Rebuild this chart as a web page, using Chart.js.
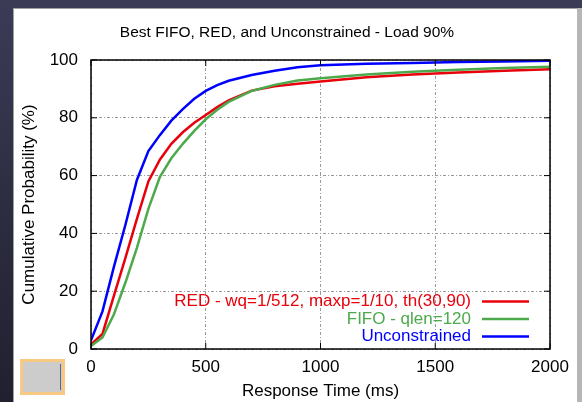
<!DOCTYPE html>
<html>
<head>
<meta charset="utf-8">
<script src="https://cdn.jsdelivr.net/npm/chart.js@4.4.1/dist/chart.umd.min.js"></script>
<style>
  body { margin:0; width:582px; height:402px; overflow:hidden; position:relative;
         background:linear-gradient(to bottom, #3b3b56, #20202e); }
  #panel { position:absolute; left:13px; top:8px; width:564px; height:394px; background:#fff;
           border-top:1px solid #a0a0a0; border-left:1px solid #a0a0a0; box-sizing:border-box; }
  #edge { position:absolute; left:577px; top:8px; width:5px; height:394px; background:#b6b6b6; }
  #thumb { position:absolute; left:20px; top:359px; width:45px; height:36px; box-sizing:border-box;
           border:3px solid #f8c983; background:#cccccc; }
  #thumb div { position:absolute; right:1px; top:2px; width:1px; height:26px; background:#667; }
  canvas { position:absolute; left:0; top:0; z-index:2; }
</style>
</head>
<body>
<div id="panel"></div>
<div id="edge"></div>
<div id="thumb"><div></div></div>
<canvas id="cdf" width="582" height="402"></canvas>
<script>
// response time (ms) and cumulative probability (%)
var times = [0, 50, 100, 150, 200, 250, 300, 350, 400, 450, 500, 550, 600, 700, 800, 900, 1000, 1200, 1400, 1600, 1800, 2000];
var redValues = [1.6, 5.2, 18.5, 31.5, 45, 58, 65.5, 71, 75, 78.3, 81, 83.7, 86, 89.4, 90.9, 91.8, 92.6, 94.0, 95.0, 95.7, 96.3, 96.8];
var fifoValues = [1, 4, 12, 23, 35, 48.5, 59.5, 66, 71, 75.5, 79.5, 82.8, 85.5, 89.3, 91.4, 92.9, 93.7, 95.0, 95.9, 96.6, 97.2, 97.7];
var freeValues = [3, 13, 28.5, 43, 58.5, 68.5, 74, 79, 83, 86.6, 89.3, 91.3, 92.8, 94.8, 96.3, 97.5, 98.2, 98.7, 99.0, 99.3, 99.5, 99.7];
var seriesNames = ["RED - wq=1/512, maxp=1/10, th(30,90)", "FIFO - qlen=120", "Unconstrained"];
var lineColors = ["#e8000b", "#4caa4c", "#0000ff"];
var xTicks = [0, 500, 1000, 1500, 2000];
var yTicks = [0, 20, 40, 60, 80, 100];

Chart.defaults.font.family = "'Liberation Sans', Arial, sans-serif";
Chart.defaults.color = "#000";

function pts(vals) {
  return times.map(function(t, i){ return {x: t, y: vals[i]}; });
}

function line(idx, vals) {
  return {
    label: seriesNames[idx],
    data: pts(vals),
    borderColor: lineColors[idx],
    borderWidth: 2.5,
    pointRadius: 0,
    tension: 0,
    fill: false
  };
}

// title, frame, inward ticks and the legend
var decor = {
  id: "decor",
  afterDatasetsDraw: function(chart) {
    var ctx = chart.ctx, a = chart.chartArea;
    var xs = chart.scales.x, ys = chart.scales.y;
    ctx.save();
    ctx.strokeStyle = "#000";
    ctx.lineWidth = 1;
    ctx.beginPath();
    xTicks.forEach(function(v){
      var px = xs.getPixelForValue(v);
      ctx.moveTo(px, a.bottom); ctx.lineTo(px, a.bottom - 6);
      ctx.moveTo(px, a.top); ctx.lineTo(px, a.top + 6);
    });
    yTicks.forEach(function(v){
      var py = ys.getPixelForValue(v);
      ctx.moveTo(a.left, py); ctx.lineTo(a.left + 6, py);
      ctx.moveTo(a.right, py); ctx.lineTo(a.right - 6, py);
    });
    ctx.stroke();
    ctx.lineWidth = 1.5;
    ctx.strokeRect(a.left, a.top, a.right - a.left, a.bottom - a.top);

    ctx.font = "15.5px 'Liberation Sans', Arial, sans-serif";
    ctx.fillStyle = "#000";
    ctx.textAlign = "center";
    ctx.textBaseline = "middle";
    ctx.fillText("Best FIFO, RED, and Unconstrained - Load 90%", 287, 33);

    ctx.font = "17px 'Liberation Sans', Arial, sans-serif";
    ctx.textAlign = "right";
    var rowY = [301.5, 319, 336.5];
    seriesNames.forEach(function(name, i){
      ctx.fillStyle = lineColors[i];
      ctx.fillText(name, 471, rowY[i]);
      ctx.strokeStyle = lineColors[i];
      ctx.lineWidth = 2.5;
      ctx.beginPath();
      ctx.moveTo(482, rowY[i]); ctx.lineTo(529, rowY[i]);
      ctx.stroke();
    });
    ctx.restore();
  }
};

new Chart("cdf", {
  type: "line",
  data: {
    datasets: [line(2, freeValues), line(1, fifoValues), line(0, redValues)]
  },
  options: {
    responsive: false,
    animation: false,
    layout: { padding: { left: 0, top: 60, right: 32, bottom: 0 } },
    plugins: { legend: { display: false }, title: { display: false }, tooltip: { enabled: false } },
    scales: {
      x: {
        type: "linear", min: 0, max: 2000,
        afterBuildTicks: function(s){ s.ticks = xTicks.map(function(v){ return {value: v}; }); },
        ticks: { padding: 8, font: { size: 17 }, maxRotation: 0, callback: function(v){ return String(v); } },
        grid: { drawTicks: false, color: "#999", lineWidth: 1 },
        border: { display: false, dash: [3, 2, 1, 2] },
        title: { display: true, text: "Response Time (ms)", font: { size: 17 }, padding: { top: 0, bottom: 0 } },
        afterFit: function(s){ s.height = 53; }
      },
      y: {
        min: 0, max: 100,
        afterBuildTicks: function(s){ s.ticks = yTicks.map(function(v){ return {value: v}; }); },
        ticks: { padding: 13, font: { size: 17 }, callback: function(v){ return String(v); } },
        grid: { drawTicks: false, color: "#999", lineWidth: 1 },
        border: { display: false, dash: [3, 2, 1, 2] },
        title: { display: true, text: "Cumulative Probability (%)", font: { size: 17 }, padding: { top: 19, bottom: 0 } },
        afterFit: function(s){ s.width = 91; }
      }
    }
  },
  plugins: [decor]
});
</script>
</body>
</html>
